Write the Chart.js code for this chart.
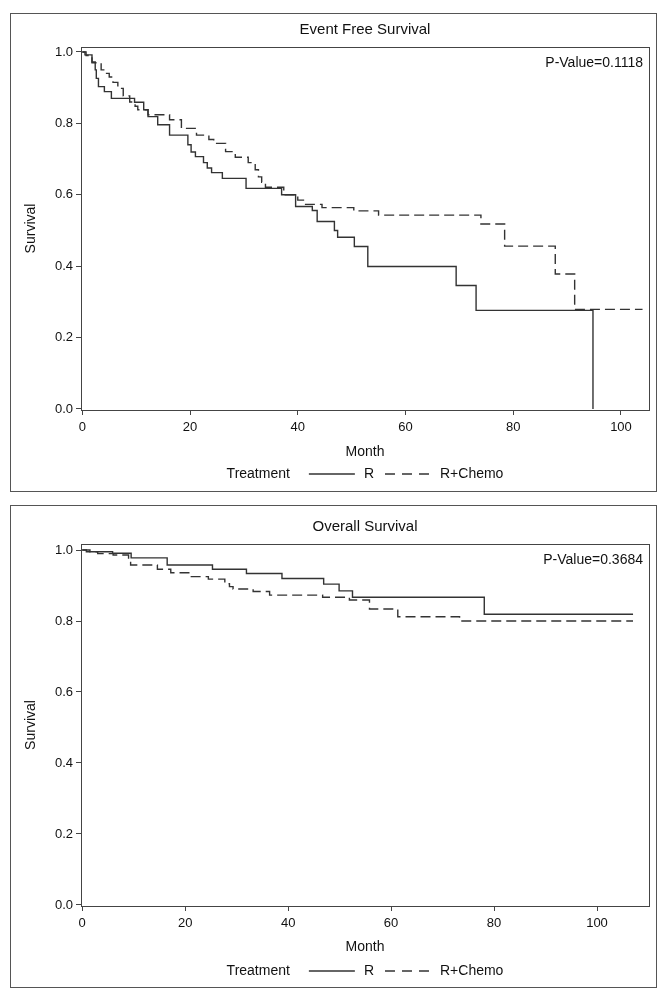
<!DOCTYPE html>
<html>
<head>
<meta charset="utf-8">
<title>Survival curves</title>
<script src="https://cdn.jsdelivr.net/npm/chart.js"></script>
<style>
  body { margin: 0; background: #fff; width: 664px; height: 1000px; position: relative; }
  .panel { position: absolute; left: 10px; width: 645px; border: 1px solid #555; }
  #p1 { top: 13px; height: 477px; }
  #p2 { top: 505px; height: 481px; }
  canvas { display: block; }
</style>
</head>
<body>
<div class="panel" id="p1"><canvas id="efs" width="645" height="477"></canvas></div>
<div class="panel" id="p2"><canvas id="os" width="645" height="481"></canvas></div>
<script>
// axis ticks and legend names
const xTicks = [0, 20, 40, 60, 80, 100];
const yTicks = [0, 0.2, 0.4, 0.6, 0.8, 1.0];
const seriesNames = ['R', 'R+Chemo'];
const legendTitle = 'Treatment';

// Event free survival
const efsMonthsR = [0, 0.5, 1.8, 2.4, 2.6, 3.0, 4.1, 5.4, 9.7, 11.4, 12.2, 14.0, 16.2, 19.6, 20.2, 21.0, 22.5, 23.2, 24.0, 26.0, 30.4, 37.0, 39.6, 42.7, 43.6, 46.8, 47.4, 50.5, 53.0, 69.4, 73.1, 94.8];
const efsSurvR   = [1.0, 0.992, 0.972, 0.95, 0.926, 0.903, 0.889, 0.870, 0.859, 0.838, 0.819, 0.796, 0.767, 0.74, 0.72, 0.707, 0.69, 0.675, 0.662, 0.646, 0.618, 0.60, 0.567, 0.556, 0.525, 0.50, 0.481, 0.455, 0.399, 0.346, 0.276, 0.0];
const efsMonthsChemo = [0, 0.7, 1.8, 3.5, 4.2, 5.0, 5.7, 6.6, 7.6, 8.8, 9.8, 10.3, 12.2, 16.2, 18.4, 21.2, 23.5, 24.4, 26.6, 28.4, 30.8, 32.1, 32.7, 33.3, 34.0, 37.4, 40.0, 41.2, 44.5, 50.4, 55.0, 74.0, 78.4, 87.8, 91.4, 104.0];
const efsSurvChemo   = [1.0, 0.99, 0.97, 0.95, 0.94, 0.93, 0.915, 0.898, 0.877, 0.860, 0.848, 0.838, 0.824, 0.81, 0.786, 0.767, 0.755, 0.744, 0.721, 0.705, 0.69, 0.67, 0.65, 0.635, 0.621, 0.60, 0.585, 0.573, 0.564, 0.555, 0.543, 0.518, 0.456, 0.378, 0.279, 0.279];

// Overall survival
const osMonthsR = [0, 0.8, 5.9, 9.5, 16.5, 25.3, 31.9, 38.8, 46.9, 49.9, 52.5, 78.1, 107.0];
const osSurvR   = [1.0, 0.995, 0.991, 0.978, 0.958, 0.946, 0.934, 0.920, 0.904, 0.885, 0.867, 0.819, 0.819];
const osMonthsChemo = [0, 1.5, 3.0, 6.0, 9.0, 9.4, 14.6, 17.2, 20.7, 24.5, 27.7, 28.6, 29.3, 33.2, 36.4, 46.7, 51.9, 55.8, 61.3, 73.3, 107.0];
const osSurvChemo   = [1.0, 0.995, 0.99, 0.986, 0.972, 0.958, 0.946, 0.936, 0.925, 0.918, 0.905, 0.897, 0.890, 0.883, 0.873, 0.867, 0.859, 0.834, 0.812, 0.80, 0.80];

const FONT = '"Liberation Sans", Arial, sans-serif';
const INK = '#111';
const LINE = '#333';
Chart.defaults.font.family = FONT;
Chart.defaults.color = INK;

function toPoints(xs, ys) {
  return xs.map((x, i) => ({ x: x, y: ys[i] }));
}

// frame round the plot, p-value and the "Treatment" key
const frameAndKey = {
  id: 'frameAndKey',
  afterDraw(chart, args, opts) {
    const ctx = chart.ctx;
    const a = chart.chartArea;
    ctx.save();
    ctx.strokeStyle = '#444';
    ctx.lineWidth = 1;
    ctx.setLineDash([]);
    ctx.strokeRect(Math.round(a.left) + 0.5, Math.round(a.top) + 0.5, Math.round(a.width), Math.round(a.height));

    ctx.font = '14px ' + FONT;
    ctx.fillStyle = INK;
    ctx.textAlign = 'right';
    ctx.textBaseline = 'middle';
    ctx.fillText(opts.pText, a.right - 6, a.top + 16);

    // legend row: solid sample 46px, dashed sample three dashes
    const sets = chart.data.datasets;
    const sampleLen = [46, 44];
    const sampleDash = [[], [10, 7]];
    const w0 = ctx.measureText(legendTitle).width;
    const w1 = ctx.measureText(sets[0].label).width;
    const w2 = ctx.measureText(sets[1].label).width;
    const total = w0 + 19 + sampleLen[0] + 9 + w1 + 11 + sampleLen[1] + 11 + w2;
    let x = (a.left + a.right) / 2 - total / 2;
    const y = opts.keyY;
    ctx.textAlign = 'left';
    ctx.fillText(legendTitle, x, y);
    x += w0 + 19;
    sets.forEach((ds, i) => {
      ctx.strokeStyle = ds.borderColor;
      ctx.lineWidth = ds.borderWidth;
      ctx.setLineDash(sampleDash[i]);
      ctx.beginPath();
      ctx.moveTo(x, y);
      ctx.lineTo(x + sampleLen[i], y);
      ctx.stroke();
      x += sampleLen[i] + (i === 0 ? 9 : 11);
      ctx.fillText(ds.label, x, y);
      x += (i === 0 ? w1 : w2) + 11;
    });
    ctx.restore();
  }
};

function makeChart(id, cfg) {
  return new Chart(document.getElementById(id), {
    type: 'line',
    data: {
      datasets: [
        {
          label: seriesNames[0],
          data: toPoints(cfg.monthsR, cfg.survR),
          borderColor: LINE, borderWidth: 1.4, pointRadius: 0, stepped: 'before', fill: false
        },
        {
          label: seriesNames[1],
          data: toPoints(cfg.monthsC, cfg.survC),
          borderColor: LINE, borderWidth: 1.4, borderDash: [10, 5], pointRadius: 0, stepped: 'before', fill: false
        }
      ]
    },
    options: {
      responsive: false,
      animation: false,
      layout: { padding: { left: 0, right: 7, top: 0, bottom: 0 } },
      plugins: {
        legend: { display: false },
        tooltip: { enabled: false },
        title: {
          display: true, text: cfg.title, fullSize: false,
          font: { size: 15, weight: 'normal' }, color: INK,
          padding: { top: cfg.titleTop, bottom: 8 }
        },
        frameAndKey: { pText: cfg.pText, keyY: cfg.keyY }
      },
      scales: {
        x: {
          type: 'linear', min: -0.24, max: cfg.xMax,
          afterBuildTicks: s => { s.ticks = xTicks.map(v => ({ value: v })); },
          afterFit: s => { s.height = 81; },
          grid: { drawOnChartArea: false, drawTicks: true, tickLength: 5, color: '#444' },
          border: { display: false },
          ticks: { font: { size: 13 }, color: INK, padding: 5, maxRotation: 0 },
          title: { display: true, text: 'Month', font: { size: 14 }, color: INK, padding: { top: 0, bottom: cfg.monthPad } }
        },
        y: {
          type: 'linear', min: -0.003, max: cfg.yMax,
          afterBuildTicks: s => { s.ticks = yTicks.map(v => ({ value: v })); },
          afterFit: s => { s.width = 70; },
          grid: { drawOnChartArea: false, drawTicks: true, tickLength: 5, color: '#444' },
          border: { display: false },
          ticks: { font: { size: 13 }, color: INK, padding: 3, callback: v => Number(v).toFixed(1) },
          title: { display: true, text: 'Survival', font: { size: 14 }, color: INK, padding: { top: 12, bottom: 0 } }
        }
      }
    },
    plugins: [frameAndKey]
  });
}

makeChart('efs', {
  title: 'Event Free Survival', pText: 'P-Value=0.1118',
  monthsR: efsMonthsR, survR: efsSurvR, monthsC: efsMonthsChemo, survC: efsSurvChemo,
  xMax: 105.2, yMax: 1.014, titleTop: 7, monthPad: 30, keyY: 460
});

makeChart('os', {
  title: 'Overall Survival', pText: 'P-Value=0.3684',
  monthsR: osMonthsR, survR: osSurvR, monthsC: osMonthsChemo, survC: osSurvChemo,
  xMax: 110.1, yMax: 1.017, titleTop: 12, monthPad: 31, keyY: 465
});
</script>
</body>
</html>
